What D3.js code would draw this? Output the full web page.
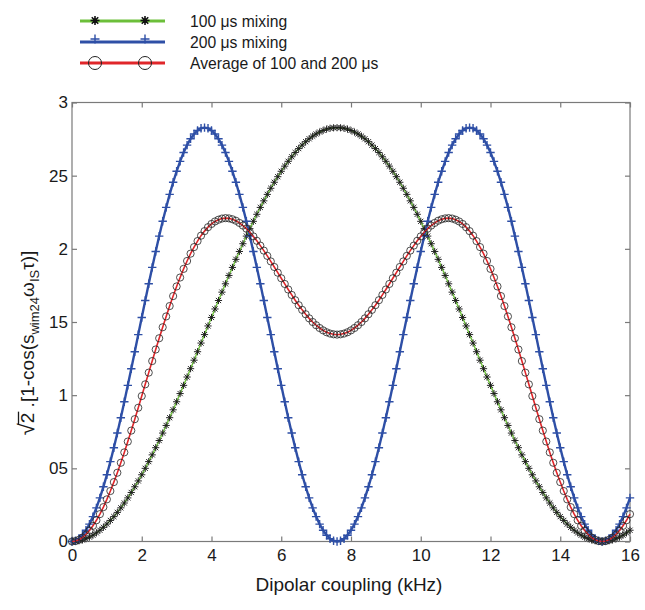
<!DOCTYPE html>
<html><head><meta charset="utf-8">
<script src="https://cdn.jsdelivr.net/npm/d3@7"></script>
<style>
body{margin:0;background:#fff}
svg{display:block}
text{font-family:"Liberation Sans",Arial,Helvetica,sans-serif;fill:#1a1a1a}
</style>
</head><body>
<svg id="c" width="645" height="610"></svg>
<script>
// ---------- data ----------
const xTicks = [0,2,4,6,8,10,12,14,16];
const xTickLabels = ["0","2","4","6","8","10","12","14","16"];
const yTicks = [0,0.5,1,1.5,2,2.5,3];
const yTickLabels = ["0","05","1","15","2","25","3"];
const seriesNames = ["100 \u03bcs mixing","200 \u03bcs mixing","Average of 100 and 200 \u03bcs"];
const dipolarKHz = d3.range(161).map(i => i / 10); // sampling grid 0..16 kHz, step 0.1

const mix100 = [
0.000,0.001,0.005,0.011,0.019,0.030,0.043,0.059,0.077,0.097,0.119,0.144,0.170,0.199,0.230,0.263,0.298,0.335,0.374,0.414,
0.456,0.500,0.546,0.592,0.641,0.690,0.741,0.793,0.846,0.900,0.955,1.011,1.067,1.124,1.181,1.239,1.297,1.356,1.414,1.473,
1.531,1.589,1.647,1.704,1.761,1.818,1.873,1.928,1.982,2.035,2.087,2.138,2.188,2.236,2.283,2.328,2.372,2.414,2.455,2.493,
2.530,2.565,2.598,2.629,2.658,2.685,2.709,2.732,2.752,2.770,2.785,2.798,2.809,2.818,2.824,2.827,2.828,
2.827,2.824,2.818,2.809,2.798,2.785,2.770,2.752,2.732,2.709,2.685,2.658,2.629,2.598,2.565,2.530,2.493,2.455,2.414,2.372,
2.328,2.283,2.236,2.188,2.138,2.087,2.035,1.982,1.928,1.873,1.818,1.761,1.704,1.647,1.589,1.531,1.473,1.414,1.356,1.297,
1.239,1.181,1.124,1.067,1.011,0.955,0.900,0.846,0.793,0.741,0.690,0.641,0.592,0.546,0.500,0.456,0.414,0.374,0.335,0.298,
0.263,0.230,0.199,0.170,0.144,0.119,0.097,0.077,0.059,0.043,0.030,0.019,0.011,0.005,0.001,0.000,
0.001,0.005,0.011,0.019,0.030,0.043,0.059,0.077
];

const mix200 = [
0.000,0.005,0.019,0.043,0.077,0.119,0.170,0.230,0.298,0.374,0.456,0.546,0.641,0.741,0.846,0.955,1.067,1.181,1.297,1.414,
1.531,1.647,1.761,1.873,1.982,2.087,2.188,2.283,2.372,2.455,2.530,2.598,2.658,2.709,2.752,2.785,2.809,2.824,2.828,
2.824,2.809,2.785,2.752,2.709,2.658,2.598,2.530,2.455,2.372,2.283,2.188,2.087,1.982,1.873,1.761,1.647,1.531,1.414,1.297,
1.181,1.067,0.955,0.846,0.741,0.641,0.546,0.456,0.374,0.298,0.230,0.170,0.119,0.077,0.043,0.019,0.005,0.000,
0.005,0.019,0.043,0.077,0.119,0.170,0.230,0.298,0.374,0.456,0.546,0.641,0.741,0.846,0.955,1.067,1.181,1.297,1.414,
1.531,1.647,1.761,1.873,1.982,2.087,2.188,2.283,2.372,2.455,2.530,2.598,2.658,2.709,2.752,2.785,2.809,2.824,2.828,
2.824,2.809,2.785,2.752,2.709,2.658,2.598,2.530,2.455,2.372,2.283,2.188,2.087,1.982,1.873,1.761,1.647,1.531,1.414,1.297,
1.181,1.067,0.955,0.846,0.741,0.641,0.546,0.456,0.374,0.298,0.230,0.170,0.119,0.077,0.043,0.019,0.005,0.000,
0.005,0.019,0.043,0.077,0.119,0.170,0.230,0.298
];

const mixAvg = [
0.000,0.003,0.012,0.027,0.048,0.075,0.107,0.145,0.187,0.235,0.288,0.345,0.406,0.470,0.538,0.609,0.683,0.758,0.836,0.914,
0.994,1.074,1.154,1.233,1.312,1.389,1.464,1.538,1.609,1.677,1.743,1.804,1.863,1.917,1.967,2.012,2.053,2.090,2.121,2.148,
2.170,2.187,2.199,2.207,2.210,2.208,2.202,2.192,2.177,2.159,2.138,2.113,2.085,2.055,2.022,1.988,1.952,1.914,1.876,1.837,
1.799,1.760,1.722,1.685,1.649,1.615,1.583,1.553,1.525,1.500,1.478,1.459,1.443,1.430,1.421,1.416,1.414,
1.416,1.421,1.430,1.443,1.459,1.478,1.500,1.525,1.553,1.583,1.615,1.649,1.685,1.722,1.760,1.799,1.837,1.876,1.914,1.952,
1.988,2.022,2.055,2.085,2.113,2.138,2.159,2.177,2.192,2.202,2.208,2.210,2.207,2.199,2.187,2.170,2.148,2.121,2.090,2.053,
2.012,1.967,1.917,1.863,1.804,1.743,1.677,1.609,1.538,1.464,1.389,1.312,1.233,1.154,1.074,0.994,0.914,0.836,0.758,0.683,
0.609,0.538,0.470,0.406,0.345,0.288,0.235,0.187,0.145,0.107,0.075,0.048,0.027,0.012,0.003,0.000,
0.003,0.012,0.027,0.048,0.075,0.107,0.145,0.187
];

// ---------- layout ----------
const svg = d3.select("#c");
const L = 72, R = 630, T = 102.5, B = 541.5;
const x = d3.scaleLinear().domain([0,16]).range([L,R]);
const y = d3.scaleLinear().domain([0,3]).range([B,T]);
const axisCol = "#7a7a7a";

// frame
svg.append("rect").attr("x",L).attr("y",T).attr("width",R-L).attr("height",B-T)
  .attr("fill","none").attr("stroke",axisCol).attr("stroke-width",1.2);

function styleAxis(g){
  g.select(".domain").remove();
  g.selectAll(".tick line").attr("stroke",axisCol).attr("stroke-width",1.2);
  g.selectAll(".tick text").attr("fill","#1a1a1a").style("font-size","17px")
   .style("font-family",'"Liberation Sans",Arial,sans-serif');
}
svg.append("g").attr("transform",`translate(0,${B})`)
  .call(d3.axisBottom(x).tickValues(xTicks).tickFormat((d,i)=>xTickLabels[i]).tickSizeInner(-5).tickSizeOuter(0).tickPadding(7))
  .call(styleAxis);
svg.append("g").attr("transform",`translate(0,${T})`)
  .call(d3.axisTop(x).tickValues(xTicks).tickFormat("").tickSizeInner(-5).tickSizeOuter(0))
  .call(styleAxis);
svg.append("g").attr("transform",`translate(${L},0)`)
  .call(d3.axisLeft(y).tickValues(yTicks).tickFormat((d,i)=>yTickLabels[i]).tickSizeInner(-5).tickSizeOuter(0).tickPadding(4))
  .call(styleAxis);
svg.append("g").attr("transform",`translate(${R},0)`)
  .call(d3.axisRight(y).tickValues(yTicks).tickFormat("").tickSizeInner(-5).tickSizeOuter(0))
  .call(styleAxis);

// ---------- series ----------
const col100 = "#6cbf3a", col200 = "#2e4fa6", colAvg = "#e0262a";
const line = d3.line().x((d,i)=>x(dipolarKHz[i])).y(d=>y(d));

function asterisk(g, cx, cy, s, c, w){
  const p = `M${cx-s},${cy}L${cx+s},${cy}M${cx},${cy-s}L${cx},${cy+s}` +
            `M${cx-s*0.72},${cy-s*0.72}L${cx+s*0.72},${cy+s*0.72}M${cx-s*0.72},${cy+s*0.72}L${cx+s*0.72},${cy-s*0.72}`;
  g.append("path").attr("d",p).attr("stroke",c).attr("stroke-width",w).attr("fill","none");
}
function plus(g, cx, cy, s, c, w){
  g.append("path").attr("d",`M${cx-s},${cy}L${cx+s},${cy}M${cx},${cy-s}L${cx},${cy+s}`)
   .attr("stroke",c).attr("stroke-width",w).attr("fill","none");
}

// 100 us
const g100 = svg.append("g");
g100.append("path").datum(mix100).attr("d",line).attr("fill","none").attr("stroke",col100).attr("stroke-width",1.4);
mix100.forEach((v,i)=>asterisk(g100, x(dipolarKHz[i]), y(v), 3.6, "#1a1a1a", 0.95));

// 200 us
const g200 = svg.append("g");
g200.append("path").datum(mix200).attr("d",line).attr("fill","none").attr("stroke",col200).attr("stroke-width",2.4);
mix200.forEach((v,i)=>plus(g200, x(dipolarKHz[i]), y(v), 4.2, col200, 1.4));

// average
const gAvg = svg.append("g");
gAvg.append("path").datum(mixAvg).attr("d",line).attr("fill","none").attr("stroke",colAvg).attr("stroke-width",1.6);
gAvg.selectAll("circle").data(mixAvg).join("circle")
  .attr("cx",(d,i)=>x(dipolarKHz[i])).attr("cy",d=>y(d)).attr("r",3.6)
  .attr("fill","none").attr("stroke","#222").attr("stroke-width",0.8);

// ---------- legend ----------
const leg = svg.append("g");
const legY = [21, 42, 63];
const legCols = [col100, col200, colAvg];
legY.forEach((ly,i)=>{
  leg.append("line").attr("x1",80).attr("x2",165).attr("y1",ly).attr("y2",ly)
     .attr("stroke",legCols[i]).attr("stroke-width",3);
  [95,145].forEach(mx=>{
    if(i===0) asterisk(leg, mx, ly-0.5, 4.5, "#111", 1.6);
    else if(i===1) plus(leg, mx, ly-3, 4.5, col200, 1.4);
    else leg.append("circle").attr("cx",mx).attr("cy",ly).attr("r",6.5).attr("fill","none").attr("stroke","#222").attr("stroke-width",1);
  });
  leg.append("text").attr("x",190).attr("y",ly+6).style("font-size","15.7px").text(seriesNames[i]);
});

// ---------- axis titles ----------
svg.append("text").attr("x",(L+R)/2 - 2).attr("y",591).attr("text-anchor","middle")
  .style("font-size","19px").text("Dipolar coupling (kHz)");

const ytg = svg.append("g").attr("transform","translate(34,343) rotate(-90)");
const yt = ytg.append("text").attr("text-anchor","middle").style("font-size","19px");
yt.append("tspan").style("font-size","22px").text("\u221A");
yt.append("tspan").text("2");
yt.append("tspan").text(" .[1-cos(s");
yt.append("tspan").attr("dy",5).style("font-size","13px").text("wim24");
yt.append("tspan").attr("dy",-5).text("\u03c9");
yt.append("tspan").attr("dy",5).style("font-size","13px").text("IS");
yt.append("tspan").attr("dy",-5).text("\u03c4)]");
// overbar of the radical over "2"
try {
  const n = yt.node();
  const total = n.getComputedTextLength();
  const start = -total / 2;
  const lr = n.getSubStringLength(0,1);
  const l2 = n.getSubStringLength(1,1);
  ytg.append("line").attr("x1", start + lr - 1.5).attr("x2", start + lr + l2 + 1)
    .attr("y1", -15.5).attr("y2", -15.5).attr("stroke","#1a1a1a").attr("stroke-width",1.3);
} catch(e) {}
</script>
</body></html>
